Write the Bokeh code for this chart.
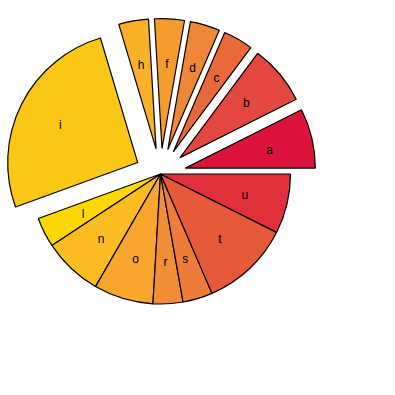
import numpy as np
from bokeh.plotting import figure
from bokeh.models import ColumnDataSource
from bokeh.embed import file_html
from bokeh.resources import INLINE

letters = ["a", "b", "c", "d", "f", "h", "i", "l", "n", "o", "r", "s", "t", "u"]
counts = [2, 2, 1, 1, 1, 1, 7, 1, 2, 2, 1, 1, 3, 2]
exploded = [True, True, True, True, True, True, True, False, False, False, False, False, False, False]
colors = ["#DC143C", "#E34840", "#EA693B", "#EF8738", "#F59C2F", "#F9B12A", "#FBC716",
          "#FFD700", "#FBBC22", "#F7A52C", "#F28E34", "#EE7B38", "#E65A3A", "#E0303C"]

R = 130.0
OFF = 25.5

c = np.array(counts, dtype=float)
ends = np.cumsum(c) / c.sum() * 2 * np.pi
starts = np.concatenate([[0.0], ends[:-1]])
mids = (starts + ends) / 2
off = np.where(exploded, OFF, 0.0)
cx = off * np.cos(mids)
cy = off * np.sin(mids)
lx = cx + R * 2 / 3 * np.cos(mids)
ly = cy + R * 2 / 3 * np.sin(mids)

src = ColumnDataSource(dict(x=cx, y=cy, start=starts, end=ends, color=colors,
                            lx=lx, ly=ly, label=letters))

p = figure(width=380, height=380, x_range=(-160, 220), y_range=(-206.5, 173.5),
           output_backend="svg", toolbar_location=None, min_border=0)
p.axis.visible = False
p.grid.visible = False
p.outline_line_color = None

p.wedge(x="x", y="y", radius=R, start_angle="start", end_angle="end",
        fill_color="color", line_color="black", line_width=1.2, source=src)
p.text(x="lx", y="ly", text="label", text_align="center", text_baseline="middle",
       text_font_size="12px", text_color="black", y_offset=1.5, source=src)

open("out.html", "w").write(file_html(p, INLINE))
